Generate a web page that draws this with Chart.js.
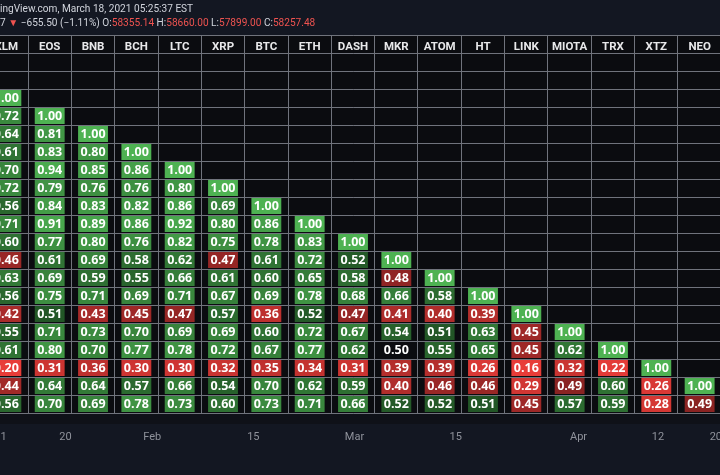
<!DOCTYPE html>
<html><head><meta charset="utf-8">
<script src="https://cdn.jsdelivr.net/npm/chart.js@4.4.1/dist/chart.umd.min.js"></script>
<style>
html,body{margin:0;padding:0;width:720px;height:475px;overflow:hidden;background:#131722;}
#wrap{position:relative;width:720px;height:475px;overflow:hidden;background:#131722;}
#c{position:absolute;left:-40px;top:0;width:800px;height:475px;}
.t{position:absolute;left:0;white-space:nowrap;font-family:Roboto,'Open Sans',sans-serif;font-size:10.1px;line-height:12px;color:#d1d4dc;}
.r{color:#ef5350}
</style></head><body>
<div id="wrap">
<canvas id="c" width="800" height="475"></canvas>
<div class="t" style="top:3px">ingView.com, March 18, 2021 05:25:37 EST</div>
<div class="t" style="top:17px">7 <span class="r">▼</span> −655.50 (−1.11%) O:<span class="r">58355.14</span> H:<span class="r">58660.00</span> L:<span class="r">57899.00</span> C:<span class="r">58257.48</span></div>
</div>
<script>
// ---- data ----
const columns = ['XLM','EOS','BNB','BCH','LTC','XRP','BTC','ETH','DASH','MKR','ATOM','HT','LINK','MIOTA','TRX','XTZ','NEO'];
// each column lists its correlations from its diagonal cell downward
const XLM   = [1.00,0.72,0.64,0.61,0.70,0.72,0.56,0.71,0.60,0.46,0.63,0.56,0.42,0.55,0.61,0.20,0.44,0.56];
const EOS   = [1.00,0.81,0.83,0.94,0.79,0.84,0.91,0.77,0.61,0.69,0.75,0.51,0.71,0.80,0.31,0.64,0.70];
const BNB   = [1.00,0.80,0.85,0.76,0.83,0.89,0.80,0.69,0.59,0.71,0.43,0.73,0.70,0.36,0.64,0.69];
const BCH   = [1.00,0.86,0.76,0.82,0.86,0.76,0.58,0.55,0.69,0.45,0.70,0.77,0.30,0.57,0.78];
const LTC   = [1.00,0.80,0.86,0.92,0.82,0.62,0.66,0.71,0.47,0.69,0.78,0.30,0.66,0.73];
const XRP   = [1.00,0.69,0.80,0.75,0.47,0.61,0.67,0.57,0.69,0.72,0.32,0.54,0.60];
const BTC   = [1.00,0.86,0.78,0.61,0.60,0.69,0.36,0.60,0.67,0.35,0.70,0.73];
const ETH   = [1.00,0.83,0.72,0.65,0.78,0.52,0.72,0.77,0.34,0.62,0.71];
const DASH  = [1.00,0.52,0.58,0.68,0.47,0.67,0.62,0.31,0.59,0.66];
const MKR   = [1.00,0.48,0.66,0.41,0.54,0.50,0.39,0.40,0.52];
const ATOM  = [1.00,0.58,0.40,0.51,0.55,0.39,0.46,0.52];
const HT    = [1.00,0.39,0.63,0.65,0.26,0.46,0.51];
const LINK  = [1.00,0.45,0.45,0.16,0.29,0.45];
const MIOTA = [1.00,0.62,0.32,0.49,0.57];
const TRX   = [1.00,0.22,0.60,0.59];
const XTZ   = [1.00,0.26,0.28];
const NEO   = [1.00,0.49];
const columnValues = [XLM,EOS,BNB,BCH,LTC,XRP,BTC,ETH,DASH,MKR,ATOM,HT,LINK,MIOTA,TRX,XTZ,NEO];
const hiddenRowsAbove = 2;   // rows of assets left of the visible window
const rowCount = 20;
// bottom time axis
const timeTickDays   = [11,20,32,46,60,74,91,102,110];
const timeTickLabels = ['11','20','Feb','15','Mar','15','Apr','12','20'];
const timeRange = [8.82, 110.76];

// ---- styling helpers ----
function lerp(a,b,t){return a.map((x,i)=>Math.round(x+(b[i]-x)*t));}
function cellColor(v){
  if (Math.abs(v-0.5)<1e-9) return 'rgba(0,0,0,0)';
  let c;
  if (v>0.5){ const t=Math.pow(Math.min(1,(v-0.5)/0.5),0.65); c=lerp([30,78,34],[78,178,82],t); }
  else { const t=Math.pow(Math.min(1,(0.5-v)/0.3),0.7); c=lerp([128,32,32],[232,60,56],t); }
  return 'rgb('+c.join(',')+')';
}

const datasets=[];
for (let r=0;r<rowCount;r++){
  const vals=columns.map((_,c)=>{const i=r-(c+hiddenRowsAbove);const a=columnValues[c];return (i>=0&&i<a.length)?a[i]:null;});
  if (vals.every(v=>v===null)) continue;
  datasets.push({
    label:'row'+r, values:vals,
    data:vals.map(v=>v===null?null:[r+0.06,r+0.94]),
    backgroundColor:vals.map(v=>v===null?'rgba(0,0,0,0)':cellColor(v)),
    borderWidth:0, grouped:false, barPercentage:0.69, categoryPercentage:1
  });
}

const gridColor='#70737c';
const areaBg={id:'areaBg',beforeDraw(chart){const {ctx,chartArea:a}=chart;ctx.save();ctx.fillStyle='#0b0c10';ctx.fillRect(a.left,a.top,a.right-a.left,a.bottom-a.top);ctx.fillStyle='#0f1118';ctx.fillRect(a.left,a.bottom,a.right-a.left,11);ctx.restore();}};
const cellText={id:'cellText',afterDatasetsDraw(chart){
  const ctx=chart.ctx;ctx.save();
  ctx.font='bold 12.5px "Open Sans"';ctx.fillStyle='#ffffff';ctx.textAlign='center';ctx.textBaseline='middle';
  chart.data.datasets.forEach((ds,di)=>{
    const meta=chart.getDatasetMeta(di);
    meta.data.forEach((el,i)=>{const v=ds.values[i];if(v==null)return;ctx.fillText(v.toFixed(2),el.x,(el.y+el.base)/2+0.5);});
  });
  ctx.restore();
}};

new Chart(document.getElementById('c'),{
  type:'bar',
  data:{labels:columns,datasets},
  options:{
    responsive:false,animation:false,
    layout:{padding:{left:24.7,right:38.7,top:35,bottom:0}},
    plugins:{legend:{display:false},tooltip:{enabled:false},title:{display:false}},
    scales:{
      x:{type:'category',position:'top',offset:true,
        grid:{offset:true,color:gridColor,drawTicks:false,lineWidth:1},
        border:{display:false},
        ticks:{mirror:true,color:'#e8e8ea',font:{family:'Roboto',size:11.5,weight:'bold',lineHeight:1},padding:6.5,autoSkip:false,maxRotation:0,minRotation:0},
        afterFit(s){s.height=0;}},
      y:{type:'linear',min:-1,max:rowCount,reverse:true,
        ticks:{display:false,stepSize:1},
        grid:{color:gridColor,drawTicks:false,lineWidth:1},
        border:{display:false},
        afterFit(s){s.width=0;}},
      t:{type:'linear',position:'bottom',offset:false,min:timeRange[0],max:timeRange[1],
        grid:{display:false,drawTicks:false,offset:false},border:{display:false},
        afterBuildTicks(s){s.ticks=timeTickDays.map(v=>({value:v}));},
        ticks:{autoSkip:false,maxRotation:0,minRotation:0,color:'#8f929b',padding:18,font:{family:'Roboto',size:11},
          callback(v){const i=timeTickDays.indexOf(v);return i>=0?timeTickLabels[i]:'';}},
        afterFit(s){s.height=62;}}
    }
  },
  plugins:[areaBg,cellText]
});
</script>
</body></html>
